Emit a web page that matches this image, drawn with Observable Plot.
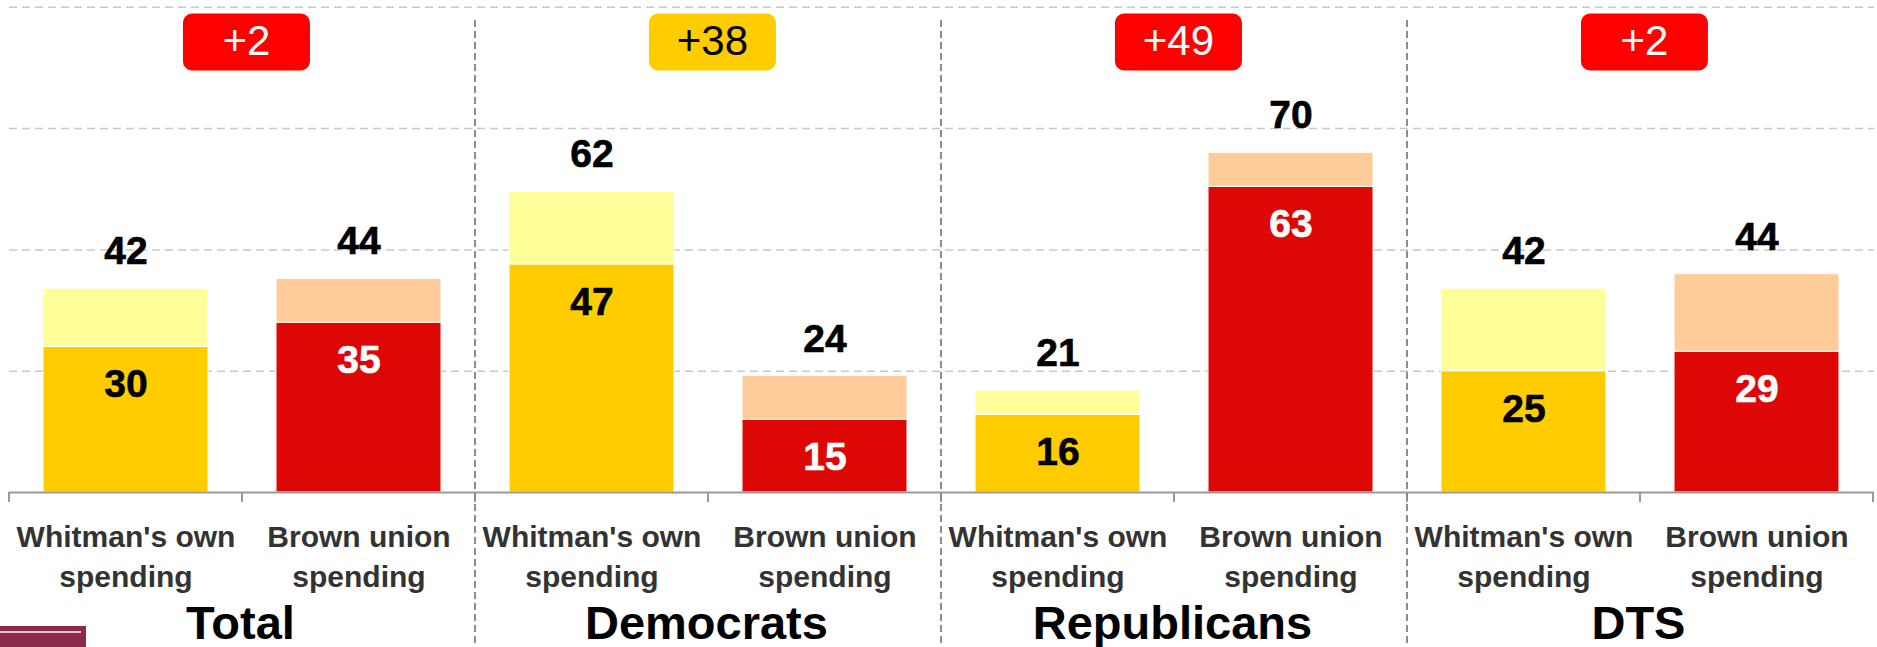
<!DOCTYPE html>
<html>
<head>
<meta charset="utf-8">
<script src="https://cdn.jsdelivr.net/npm/d3@7"></script>
<script src="https://cdn.jsdelivr.net/npm/@observablehq/plot@0.6"></script>
<style>
  html, body { margin: 0; padding: 0; background: #fff; }
  #chart svg { display: block; }
</style>
</head>
<body>
<div id="chart"></div>
<script>
// ---- data ----
const groups = ["Total", "Democrats", "Republicans", "DTS"];
const candidates = ["Whitman", "Brown"];
const candidateLabels = ["Whitman's own\nspending", "Brown union\nspending"];
const whitmanCore = [30, 47, 16, 25];
const whitmanTotal = [42, 62, 21, 42];
const whitmanTotalLabel = [42, 62, 21, 42];
const brownCore = [35, 15, 63, 29];
const brownTotal = [44, 24, 70, 45];
const brownTotalLabel = [44, 24, 70, 44];
const gridValues = [25, 50, 75, 100];

// ---- styles ----
const palette = {
  Whitman: {core: "#FFCC00", extra: "#FFFF99", text: "#000000", badge: "#FFCC00", badgeText: "#000000"},
  Brown:   {core: "#DD0806", extra: "#FFCC99", text: "#FFFFFF", badge: "#FF0000", badgeText: "#FFFFFF"}
};

// ---- tables ----
const key = (g, c) => g + "|" + c;
const rows = [];
groups.forEach((g, i) => {
  candidates.forEach((c, j) => {
    const core = c === "Whitman" ? whitmanCore[i] : brownCore[i];
    const total = c === "Whitman" ? whitmanTotal[i] : brownTotal[i];
    const totalLabel = c === "Whitman" ? whitmanTotalLabel[i] : brownTotalLabel[i];
    rows.push({
      key: key(g, c), group: g, cand: c, label: candidateLabels[j],
      core, total, totalLabel,
      coreColor: palette[c].core, extraColor: palette[c].extra, coreText: palette[c].text
    });
  });
});
const badges = groups.map((g, i) => {
  const diff = brownTotalLabel[i] - whitmanTotalLabel[i];
  const leader = diff >= 0 ? "Brown" : "Whitman";
  return {
    group: g, brownKey: key(g, "Brown"),
    label: "+" + Math.abs(diff),
    color: palette[leader].badge, textColor: palette[leader].badgeText
  };
});

// ---- layout ----
const W = 1877, H = 647, mL = 9, mR = 3, mT = 0, mB = 155;
const step = (W - mL - mR) / rows.length;
const FONT = "'Liberation Sans', Arial, Helvetica, sans-serif";

const badgeW = 127, badgeH = 57, badgeR = 9;
const badgeSymbol = {
  draw(ctx) {
    const x0 = -badgeW / 2, y0 = -badgeH / 2, x1 = badgeW / 2, y1 = badgeH / 2, r = badgeR;
    ctx.moveTo(x0 + r, y0);
    ctx.lineTo(x1 - r, y0);
    ctx.arcTo(x1, y0, x1, y0 + r, r);
    ctx.lineTo(x1, y1 - r);
    ctx.arcTo(x1, y1, x1 - r, y1, r);
    ctx.lineTo(x0 + r, y1);
    ctx.arcTo(x0, y1, x0, y1 - r, r);
    ctx.lineTo(x0, y0 + r);
    ctx.arcTo(x0, y0, x0 + r, y0, r);
    ctx.closePath();
  }
};

const plot = Plot.plot({
  width: W, height: H,
  marginLeft: mL, marginRight: mR, marginTop: mT, marginBottom: mB,
  x: {type: "band", domain: rows.map(d => d.key), paddingInner: 0.29, paddingOuter: 0.145, axis: null},
  y: {domain: [0, 101.4], axis: null},
  color: {type: "identity"},
  style: {fontFamily: FONT, background: "white", overflow: "visible"},
  marks: [
    Plot.ruleY(gridValues, {stroke: "#c8c8c8", strokeWidth: 1.5, strokeDasharray: "8,5"}),
    Plot.barY(rows, {x: "key", y1: 0, y2: "core", fill: "coreColor", stroke: "white", strokeWidth: 1}),
    Plot.barY(rows, {x: "key", y1: "core", y2: "total", fill: "extraColor", stroke: "white", strokeWidth: 1}),
    Plot.ruleY([0], {stroke: "#999999", strokeWidth: 2}),
    Plot.text(rows, {x: "key", y: "total", text: "totalLabel", dy: -37, lineAnchor: "middle",
      fontSize: 39, fontWeight: "bold", fill: "#000000", stroke: "#000000", strokeWidth: 0.6}),
    Plot.text(rows, {x: "key", y: "core", text: "core", dy: 38, lineAnchor: "middle",
      fontSize: 39, fontWeight: "bold", fill: "coreText", stroke: "coreText", strokeWidth: 0.6}),
    Plot.text(rows, {x: "key", text: "label", frameAnchor: "bottom", dy: 61.5, lineAnchor: "middle",
      lineHeight: 1.36, fontSize: 30, fontWeight: "bold", fill: "#333333"}),
    Plot.text(badges, {x: "brownKey", dx: -step / 2 - 2, text: "group", frameAnchor: "bottom", dy: 131,
      lineAnchor: "middle", fontSize: 47, fontWeight: "bold", fill: "#000000"}),
    Plot.dot(badges, {x: "brownKey", dx: -step / 2 + 4, frameAnchor: "top", dy: 41.5, r: 10,
      symbol: badgeSymbol, fill: "color", stroke: "none"}),
    Plot.text(badges, {x: "brownKey", dx: -step / 2 + 4, frameAnchor: "top", dy: 41.5, text: "label",
      lineAnchor: "middle", fontSize: 42, fill: "textColor"})
  ]
});

// ---- decorations using the plot's own scales ----
const svg = d3.select(plot);
const xs = plot.scale("x");
const ys = plot.scale("y");
const bw = xs.bandwidth;
const stp = xs.step || step;
const leftEdge = k => xs.apply(k) - (stp - bw) / 2;
const y0 = ys.apply(0);

// category ticks at band boundaries
const tickXs = rows.map(d => leftEdge(d.key)).concat([leftEdge(rows[rows.length - 1].key) + stp]);
svg.append("g").selectAll("line").data(tickXs).join("line")
  .attr("x1", d => d).attr("x2", d => d)
  .attr("y1", y0).attr("y2", y0 + 10)
  .attr("stroke", "#999999").attr("stroke-width", 2);

// dashed dividers between panels
const dividers = groups.slice(1).map(g => leftEdge(key(g, "Whitman")));
svg.append("g").selectAll("line").data(dividers).join("line")
  .attr("x1", d => d).attr("x2", d => d)
  .attr("y1", 20).attr("y2", H)
  .attr("stroke", "#8c8c8c").attr("stroke-width", 2).attr("stroke-dasharray", "7,4");

// cropped logo in the bottom-left corner
const logo = svg.append("g");
logo.append("rect").attr("x", 0).attr("y", 626).attr("width", 86).attr("height", 21).attr("fill", "#8C2A4C");
logo.append("rect").attr("x", 0).attr("y", 631).attr("width", 81).attr("height", 2).attr("fill", "#E3BFC9");

document.getElementById("chart").appendChild(plot);
</script>
</body>
</html>
